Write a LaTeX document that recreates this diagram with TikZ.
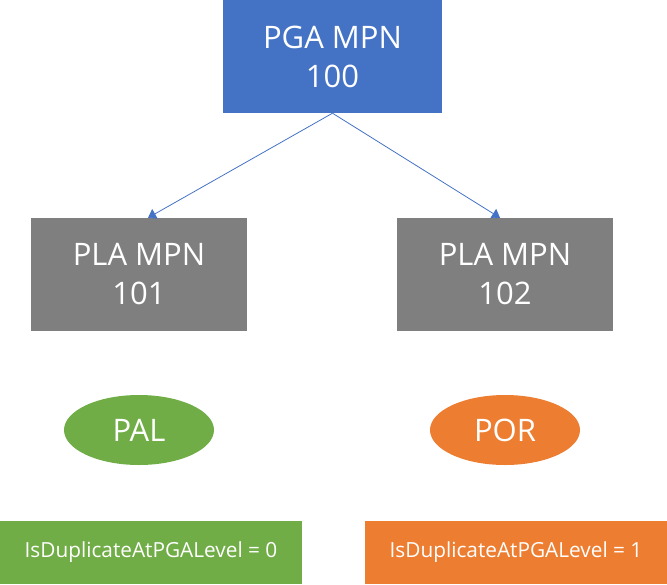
\documentclass[tikz,border=0pt]{standalone}
\usepackage{fontspec}
\setmainfont{Open Sans}
\usepackage{xcolor}
\usetikzlibrary{shapes.geometric, positioning, arrows.meta}

\definecolor{mpnblue}{HTML}{4472C4}
\definecolor{mpngray}{HTML}{7F7F7F}
\definecolor{palgreen}{HTML}{70AD47}
\definecolor{pororange}{HTML}{ED7D31}

\begin{document}
\begin{tikzpicture}[x=1pt,y=1pt,on grid,
    mpn/.style={rectangle,minimum width=216pt,minimum height=113pt,inner sep=0pt,
      text=white,align=center,font=\fontsize{31}{39}\selectfont},
    loc/.style={ellipse,minimum width=150pt,minimum height=70pt,inner sep=0pt,
      text=white,font=\fontsize{31}{36}\selectfont},
    flag/.style={rectangle,minimum width=302pt,minimum height=63pt,inner sep=0pt,
      text=white,font=\fontsize{20.8}{24}\selectfont},
    link/.style={draw=mpnblue,line width=0.8pt,-{Triangle[width=11pt,length=8pt]}}]
  \useasboundingbox (0,0) rectangle (667,-584);

  \node[mpn,fill=mpnblue,minimum width=219pt] (pga) at (332.5,-56.5) {PGA MPN\\100};
  \node[mpn,fill=mpngray] (pla1) [below left=218pt and 193.5pt of pga] {PLA MPN\\101};
  \node[mpn,fill=mpngray] (pla2) [below right=218pt and 172.5pt of pga] {PLA MPN\\102};

  \node[loc,fill=palgreen] (pal) [below=155.5pt of pla1] {PAL};
  \node[loc,fill=pororange] (por) [below=155.5pt of pla2] {POR};

  \node[flag,fill=palgreen] (dup0) at (151,-552.5) {IsDuplicateAtPGALevel = 0};
  \node[flag,fill=pororange] (dup1) at (516,-552.5) {IsDuplicateAtPGALevel = 1};

  \draw[link] (pga.south) -- ([xshift=9pt]pla1.north);
  \draw[link] (pga.south) -- ([xshift=-5pt]pla2.north);
\end{tikzpicture}
\end{document}
